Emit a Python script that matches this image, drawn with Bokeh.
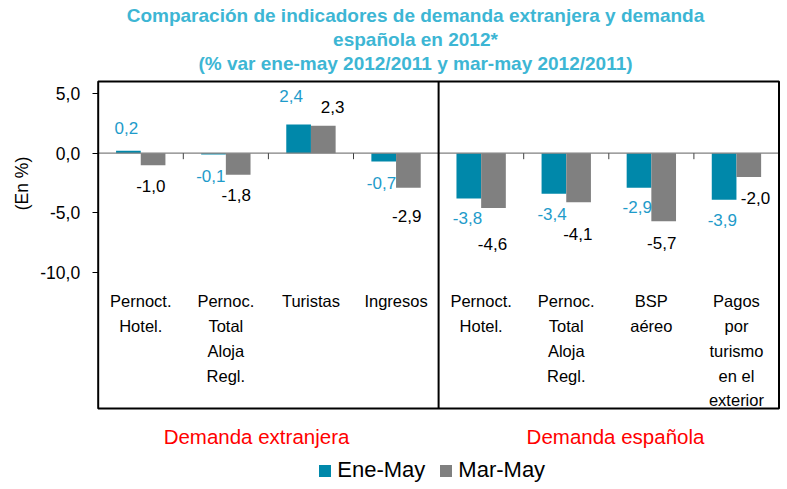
import math
from bokeh.plotting import figure
from bokeh.models import Range1d, Legend, LegendItem, FixedTicker, ColumnDataSource
from bokeh.core.properties import value
from bokeh.embed import file_html
from bokeh.resources import INLINE

# ---------------- data ----------------
categories = ["Pernoct.\nHotel.", "Pernoc.\nTotal\nAloja\nRegl.", "Turistas", "Ingresos",
              "Pernoct.\nHotel.", "Pernoc.\nTotal\nAloja\nRegl.", "BSP\naéreo",
              "Pagos\npor\nturismo\nen el\nexterior"]
ene_may = [0.2, -0.1, 2.4, -0.7, -3.8, -3.4, -2.9, -3.9]
mar_may = [-1.0, -1.8, 2.3, -2.9, -4.6, -4.1, -5.7, -2.0]
series_names = ["Ene-May", "Mar-May"]
group_names = ["Demanda extranjera", "Demanda española"]
y_ticks = [5, 0, -5, -10]
title_lines = ["Comparación de indicadores de demanda extranjera y demanda",
               "española en 2012*",
               "(% var ene-may 2012/2011 y mar-may 2012/2011)"]
y_title = "(En %)"

# ---------------- styles ----------------
BLUE = "#0088AA"
GRAY = "#808080"
BLUE_TXT = "#1E9BCA"
TITLE_C = "#3DB6D4"
FONT = "Liberation Sans"

# label nudges in pixels (right, down) relative to bar end / centre
ene_dx = [-2, -2.7, -7.5, -2.2, -1.3, -1.8, -1.8, -1.8]
ene_dy = [-22.6, 21.8, -29, 21.6, 19.6, 20, 19.4, 20]
mar_dx = [-2.3, -2, 9.4, -1.7, -1, -0.8, -2, 6.7]
mar_dy = [20.4, 20.8, -19.2, 27.7, 35.7, 32.3, 21.5, 20.7]

# ---------------- geometry (pixel layout helpers) ----------------
W, H = 787, 489
BOX_L, BOX_R, BOX_T, BOX_B = 97.7, 778.5, 81, 408
ZERO_PY = 152.7
PPU = 11.94            # pixels per y unit
n = len(categories)
PX_X = (BOX_R - BOX_L) / n

def X(px):
    return (px - BOX_L) / PX_X

def Y(py):
    return (ZERO_PY - py) / PPU

p = figure(width=W, height=H, output_backend="svg", toolbar_location=None,
           x_range=Range1d(X(0), X(W)), y_range=Range1d(Y(H), Y(0)),
           x_axis_location=None,
           min_border_left=0, min_border_right=0, min_border_top=0, min_border_bottom=0)
p.xgrid.visible = False
p.ygrid.visible = False
p.outline_line_color = None
p.background_fill_color = "white"
p.border_fill_color = "white"

ax = p.yaxis[0]
ax.fixed_location = 0
ax.ticker = FixedTicker(ticks=y_ticks)
ax.major_label_overrides = {t: f"{t:.1f}".replace(".", ",") for t in y_ticks}
ax.minor_tick_line_color = None
ax.major_tick_in = 0
ax.major_tick_out = 6
ax.major_tick_line_color = "black"
ax.major_tick_line_width = 1
ax.axis_line_color = None
ax.major_label_standoff = 12
ax.major_label_text_font = FONT
ax.major_label_text_font_size = "17.5px"
ax.major_label_text_color = "black"

bw = 0.29
x_blue = [i + 0.5 - bw / 2 for i in range(n)]
x_gray = [i + 0.5 + bw / 2 for i in range(n)]
r1 = p.vbar(x=x_blue, top=ene_may, bottom=0, width=bw, fill_color=BLUE, line_color=None)
r2 = p.vbar(x=x_gray, top=mar_may, bottom=0, width=bw, fill_color=GRAY, line_color=None)

# zero line + category boundary ticks
p.segment(x0=[0], y0=[0], x1=[n], y1=[0], line_color=GRAY, line_width=1.2)
bounds = list(range(1, n + 1))
p.segment(x0=bounds, y0=[0] * n, x1=bounds, y1=[-6 / PPU] * n,
          line_color="#404040", line_width=1)

# outer box and divider between groups
p.quad(left=[0], right=[n], top=[Y(BOX_T)], bottom=[Y(BOX_B)], fill_color=None,
       line_color="black", line_width=2)
p.segment(x0=[n / 2], y0=[Y(BOX_T)], x1=[n / 2], y1=[Y(BOX_B)], line_color="black", line_width=2)

def fmt(v):
    return f"{v:.1f}".replace(".", ",")

src_b = ColumnDataSource(dict(x=x_blue, y=ene_may, t=[fmt(v) for v in ene_may], dx=ene_dx, dy=ene_dy))
src_g = ColumnDataSource(dict(x=x_gray, y=mar_may, t=[fmt(v) for v in mar_may], dx=mar_dx, dy=mar_dy))
p.text(x="x", y="y", text="t", x_offset="dx", y_offset="dy", source=src_b,
       text_align="center", text_baseline="middle", text_font=value(FONT),
       text_font_size="17px", text_color=BLUE_TXT)
p.text(x="x", y="y", text="t", x_offset="dx", y_offset="dy", source=src_g,
       text_align="center", text_baseline="middle", text_font=value(FONT),
       text_font_size="17px", text_color="black")

# category labels, one row per line
cx, cy, ct, coff = [], [], [], []
for i, c in enumerate(categories):
    for k, line in enumerate(c.split("\n")):
        cx.append(i + 0.5)
        cy.append(Y(300.7))
        ct.append(line)
        coff.append(k * 24.8)
p.text(x=cx, y=cy, text=ct, y_offset=coff, text_align="center", text_baseline="middle",
       text_font=value(FONT), text_font_size="16.5px", text_color="black")

# title
p.text(x=[X(415)] * 3, y=[Y(py) for py in (14.5, 38.5, 63)], text=title_lines,
       text_align="center", text_baseline="middle", text_font=value(FONT),
       text_font_style="bold", text_font_size="19px", text_color=TITLE_C)

# y title
p.text(x=[X(21.7)], y=[Y(183)], text=[y_title], angle=math.pi / 2,
       text_align="center", text_baseline="middle", text_font=value(FONT),
       text_font_size="17.5px", text_color="black")

# group labels
p.text(x=[X(256), X(615)], y=[Y(435.8)] * 2, text=group_names, text_align="center",
       text_baseline="middle", text_font=value(FONT), text_font_size="20.5px",
       text_color="#FF0000")

legend = Legend(items=[LegendItem(label=series_names[0], renderers=[r1]),
                       LegendItem(label=series_names[1], renderers=[r2])],
                orientation="horizontal", location=(317.3, H - 483.3),
                glyph_width=15, glyph_height=15, label_height=15, label_standoff=5,
                spacing=13, padding=0, margin=0, border_line_color=None,
                background_fill_alpha=0, label_text_font=FONT,
                label_text_font_size="22px", label_text_color="black")
p.add_layout(legend)

open("out.html", "w").write(file_html(p, INLINE))
